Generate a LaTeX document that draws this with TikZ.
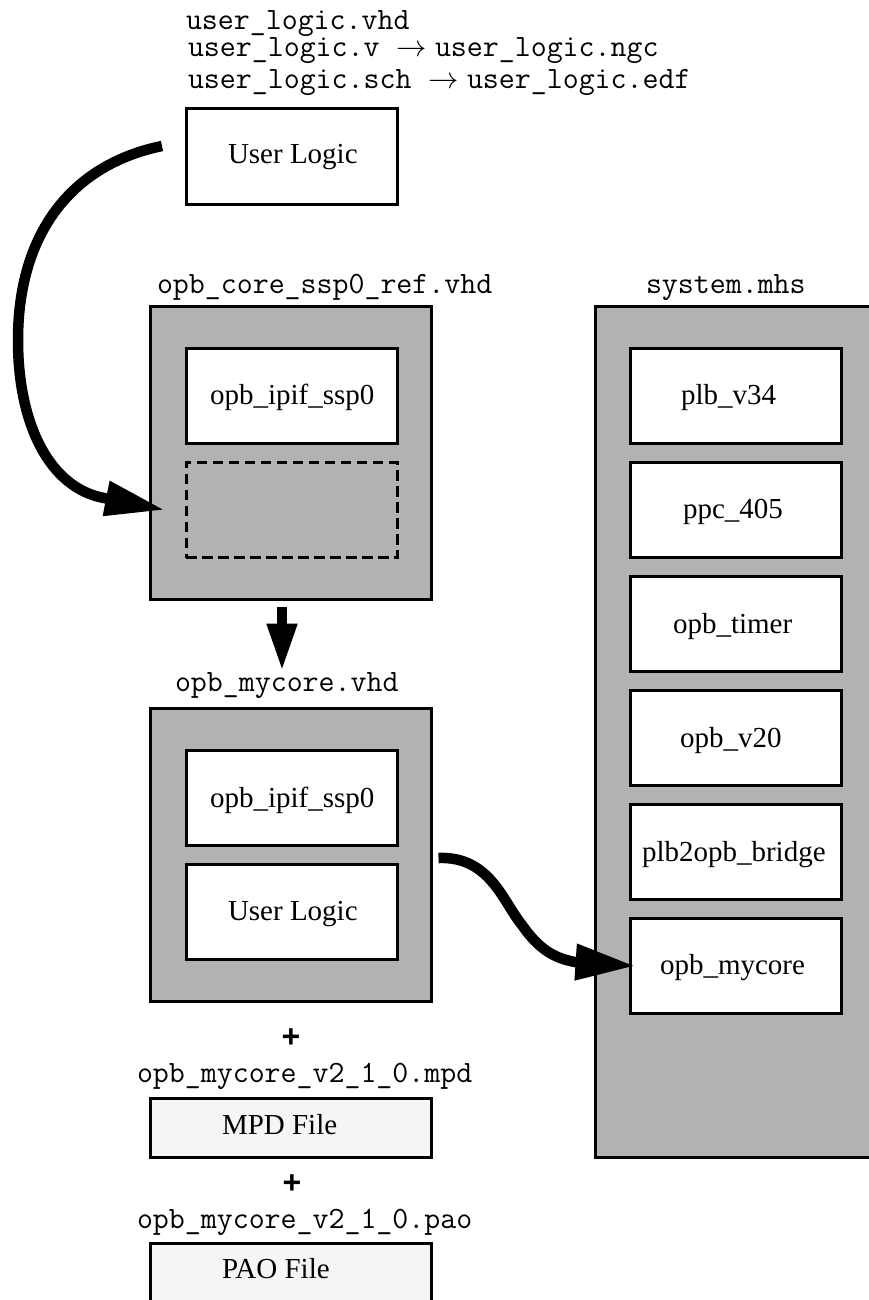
\documentclass[tikz,border=0pt]{standalone}
\usepackage{fontspec}
\setmainfont{Liberation Serif}
\newfontfamily\plusfont[BoldFont={Liberation Sans Bold}]{Liberation Sans}
\usetikzlibrary{arrows.meta,calc}
\definecolor{panelgray}{HTML}{B2B2B2}
\definecolor{filegray}{HTML}{F5F5F5}
\tikzset{
  boxbase/.style={rectangle,draw=black,line width=3pt,inner sep=0pt,outer sep=0pt,anchor=center,line join=miter},
  whitebox/.style={boxbase,fill=white,minimum width=211pt,minimum height=95pt},
  dashbox/.style={boxbase,dash pattern=on 10.5pt off 5.5pt,fill=panelgray,minimum width=211pt,minimum height=95pt},
  panel/.style={boxbase,fill=panelgray},
  filebox/.style={boxbase,fill=filegray,minimum width=281pt,minimum height=59pt},
  fname/.style={anchor=base west,inner sep=0pt,outer sep=0pt,font=\fontsize{31pt}{33pt}\ttfamily},
  fnamearrow/.style={anchor=base west,inner sep=0pt,outer sep=0pt,scale=1.22,font=\fontsize{24.88pt}{26pt}\selectfont},
  blabel/.style={anchor=base west,inner sep=0pt,outer sep=0pt,font=\fontsize{29pt}{32pt}\selectfont},
  plus/.style={anchor=center,inner sep=0pt,outer sep=0pt,font=\fontsize{32pt}{34pt}\plusfont\bfseries},
  flow/.style={line width=10.5pt,line cap=butt}
}
\begin{document}
\begin{tikzpicture}[x=1pt,y=-1pt]
\useasboundingbox (0,0) rectangle (869,1300);
\clip (0,0) rectangle (869,1300);
\fill[white] (0,0) rectangle (869,1300);

% top file names
\node[fname] (f1) at (186,30) {user\_logic.vhd};
\node[fname] (f2) at (188,57) {user\_logic.v};
\node[fnamearrow] (a2) at (396,57) {$\rightarrow$};
\node[fname] (f3) at (435,57) {user\_logic.ngc};
\node[fname] (f4) at (188,89) {user\_logic.sch};
\node[fnamearrow] (a4) at (428,89) {$\rightarrow$};
\node[fname] (f5) at (467,89) {user\_logic.edf};

% user logic
\node[whitebox] (ul) at (291.5,156.5) {};
\node[blabel] (ult) at (228,164) {User Logic};

% reference core
\node[fname] (c1n) at (157,293) {opb\_core\_ssp0\_ref.vhd};
\node[panel,minimum width=281pt,minimum height=293pt] (c1) at (291,453) {};
\node[whitebox] (ip1) at (291.5,396) {};
\node[blabel] (ip1t) at (210,404) {opb\_ipif\_ssp0};
\node[dashbox] (slot) at (291.5,510) {};

% my core
\node[fname] (c2n) at (175,691) {opb\_mycore.vhd};
\node[panel,minimum width=281pt,minimum height=293pt] (c2) at (291,855) {};
\node[whitebox] (ip2) at (291.5,798) {};
\node[blabel] (ip2t) at (210,807) {opb\_ipif\_ssp0};
\node[whitebox] (ul2) at (291.5,912) {};
\node[blabel] (ul2t) at (228,920) {User Logic};

% plus and files
\node[plus] (p1) at (291,1038) {+};
\node[fname] (mn) at (137,1082) {opb\_mycore\_v2\_1\_0.mpd};
\node[filebox] (mpd) at (291,1128) {};
\node[blabel] (mpdt) at (222,1134) {MPD File};
\node[plus] (p2) at (292,1184) {+};
\node[fname] (pn) at (137,1228) {opb\_mycore\_v2\_1\_0.pao};
\node[filebox] (pao) at (291,1272.5) {};
\node[blabel] (paot) at (222,1278) {PAO File};

% system
\node[fname] (sn) at (646,293) {system.mhs};
\node[panel,minimum width=300pt,minimum height=851pt] (sys) at (745,732) {};
\node[whitebox] (s1) at (736,396) {};
\node[blabel] (s1t) at (681,404) {plb\_v34};
\node[whitebox] (s2) at (736,510) {};
\node[blabel] (s2t) at (683,518) {ppc\_405};
\node[whitebox] (s3) at (736,624) {};
\node[blabel] (s3t) at (673,633) {opb\_timer};
\node[whitebox] (s4) at (736,738) {};
\node[blabel] (s4t) at (680,747) {opb\_v20};
\node[whitebox] (s5) at (736,852) {};
\node[blabel] (s5t) at (642,861) {plb2opb\_bridge};
\node[whitebox] (s6) at (736,966) {};
\node[blabel] (s6t) at (660,974) {opb\_mycore};

% connectors
\draw[flow,-{Triangle[length=60pt,width=33pt]}]
  ([xshift=-24pt,yshift=10.5pt]ul.west) .. controls (70,165) and (18,235) .. (18,340)
  .. controls (18,425) and (50,488) .. (104,498) -- ([xshift=-21pt]slot.west);
\draw[flow,-{Triangle[length=48pt,width=28pt]}]
  ([xshift=-9pt,yshift=-7pt]c1.south) -- ([xshift=-9pt,yshift=37pt]c2.north);
\draw[flow,-{Triangle[length=60pt,width=34pt]}]
  ([xshift=7pt,yshift=-3pt]c2.east) .. controls (490,856) and (503,902) .. (522,925)
  .. controls (538,948) and (553,958) .. (575,962) -- ([xshift=5pt]s6.west);
\end{tikzpicture}
\end{document}
